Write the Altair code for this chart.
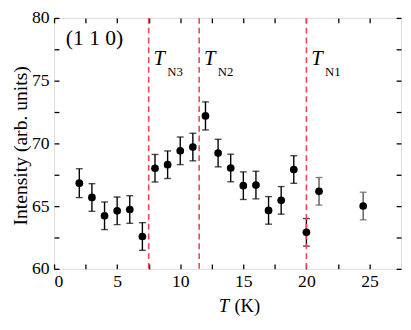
import altair as alt
import pandas as pd

# ---- data ----
temps = [2, 3, 4, 5, 6, 7, 8, 9, 10, 11, 12, 13, 14, 15, 16, 17, 18, 19, 20, 21, 24.5]
intensity = [66.83, 65.69, 64.23, 64.63, 64.73, 62.58, 68.02, 68.30, 69.41, 69.71,
             72.19, 69.23, 68.04, 66.63, 66.68, 64.66, 65.46, 67.92, 62.91, 66.18, 65.01]
errors = [1.15, 1.1, 1.1, 1.1, 1.1, 1.1, 1.1, 1.1, 1.1, 1.1,
          1.12, 1.1, 1.1, 1.1, 1.1, 1.1, 1.1, 1.1, 1.1, 1.1, 1.1]

transition_T = [7.5, 11.5, 20]
transition_sub = ["N3", "N2", "N1"]

x_ticks = [0, 2.5, 5, 7.5, 10, 12.5, 15, 17.5, 20, 22.5, 25]
y_ticks = [60, 62.5, 65, 67.5, 70, 72.5, 75, 77.5, 80]

df = pd.DataFrame({
    "T": temps,
    "I": intensity,
    "lo": [v - e for v, e in zip(intensity, errors)],
    "hi": [v + e for v, e in zip(intensity, errors)],
})
tr = pd.DataFrame({"T": transition_T, "sub": transition_sub})

W, H = 354, 256
FONT = "Liberation Serif, Times New Roman, Times, serif"

xs = alt.Scale(domain=[0, 27.5], nice=False, zero=False)
ys = alt.Scale(domain=[60, 80], nice=False, zero=False)

common_axis = dict(domain=False, grid=False, offset=-5, tickSize=5, tickWidth=1.3,
                   tickColor="black", labelFont=FONT, labelFontSize=18,
                   labelColor="black")

x_bottom = alt.Axis(values=x_ticks, title=None, labelPadding=4,
                    labelExpr="datum.value % 5 == 0 ? datum.label : ''", **common_axis)
y_left = alt.Axis(values=y_ticks, title="Intensity (arb. units)", labelPadding=5,
                  labelExpr="datum.value % 5 == 0 ? datum.label : ''",
                  titleFont=FONT, titleFontSize=20, titleFontWeight="normal",
                  titleColor="black", titleAngle=-90, titleX=-39, titleY=130,
                  titleAlign="center", titleBaseline="middle", **common_axis)
x_top = alt.Axis(values=x_ticks, title=None, labels=False, orient="top", **common_axis)
y_right = alt.Axis(values=y_ticks, title=None, labels=False, orient="right", **common_axis)

base = alt.Chart(df)

errs = base.mark_errorbar(ticks={"size": 7, "thickness": 1.4}, thickness=1.4).encode(
    x=alt.X("T:Q", scale=xs, axis=None),
    y=alt.Y("lo:Q", scale=ys, axis=None),
    y2="hi:Q",
    color=alt.condition(alt.datum.T > 20, alt.value("#555555"), alt.value("black")),
)

rules = alt.Chart(tr).mark_rule(color="#ee4455", strokeWidth=1.6, strokeDash=[6, 4]).encode(
    x=alt.X("T:Q", scale=xs, axis=None),
)

points = base.mark_circle(size=62, color="black", opacity=1).encode(
    x=alt.X("T:Q", scale=xs, axis=x_bottom),
    y=alt.Y("I:Q", scale=ys, axis=y_left),
)

frame_axes = base.mark_circle(opacity=0).encode(
    x=alt.X("T:Q", scale=xs, axis=x_top),
    y=alt.Y("I:Q", scale=ys, axis=y_right),
)

t_big = alt.Chart(tr).mark_text(text="T", font=FONT, fontSize=21, fontStyle="italic",
                                align="left", baseline="alphabetic", dx=5,
                                color="black").encode(
    x=alt.X("T:Q", scale=xs, axis=None), y=alt.value(48))
t_sub = alt.Chart(tr).mark_text(font=FONT, fontSize=13, align="left",
                                baseline="alphabetic", dx=19, color="black").encode(
    x=alt.X("T:Q", scale=xs, axis=None), y=alt.value(59), text="sub:N")

hkl = alt.Chart(pd.DataFrame({"t": ["(1 1 0)"]})).mark_text(
    font=FONT, fontSize=22, align="left", baseline="alphabetic", color="black").encode(
    x=alt.value(12), y=alt.value(28), text="t:N")

xt1 = alt.Chart(pd.DataFrame({"t": ["T"]})).mark_text(
    font=FONT, fontSize=19, fontStyle="italic", align="left", baseline="alphabetic",
    color="black").encode(x=alt.value(168), y=alt.value(H + 44), text="t:N")
xt2 = alt.Chart(pd.DataFrame({"t": ["(K)"]})).mark_text(
    font=FONT, fontSize=19, align="left", baseline="alphabetic",
    color="black").encode(x=alt.value(184), y=alt.value(H + 44), text="t:N")

chart = alt.layer(errs, rules, points, frame_axes, t_big, t_sub, hkl, xt1, xt2).resolve_axis(
    x="independent", y="independent"
).properties(
    width=W, height=H,
    autosize=alt.AutoSizeParams(type="none"),
    padding={"left": 47, "top": 7, "right": 2, "bottom": 47},
).configure_view(stroke="black", strokeWidth=1.5).configure(background="white")

chart.save("out.html", embed_options={"renderer": "svg", "actions": False})
